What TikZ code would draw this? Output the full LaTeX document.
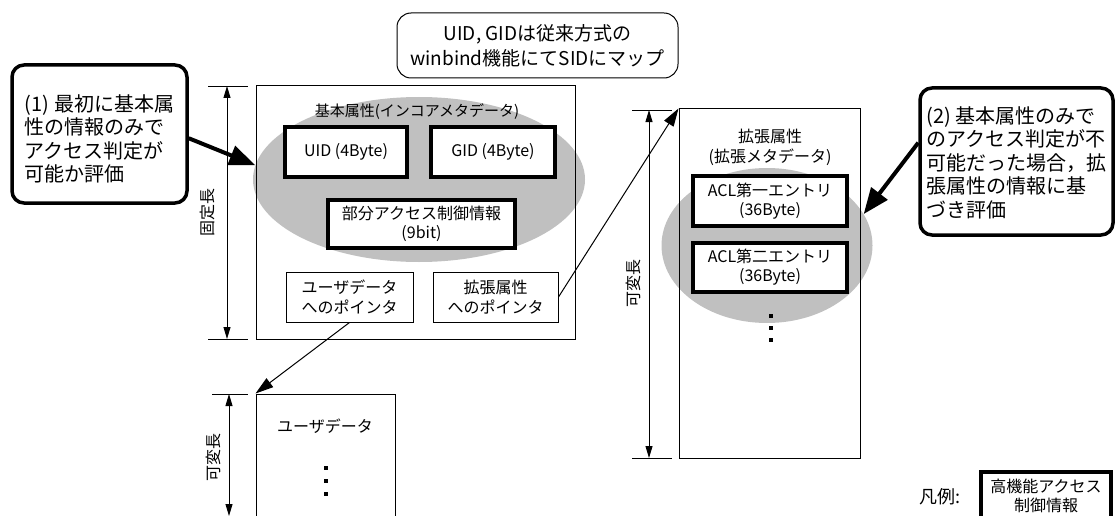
\documentclass[tikz,border=0pt]{standalone}
\usepackage{fontspec}
\setmainfont{Noto Sans CJK JP}
\usetikzlibrary{arrows.meta,shapes.geometric,calc}
\definecolor{ellgray}{RGB}{192,192,192}
\begin{document}
\begin{tikzpicture}[x=1pt,y=-1pt,
  thinbox/.style={draw, line width=1pt, inner sep=0pt, align=center, font=\fontsize{16}{20}\selectfont},
  thickbox/.style={draw, line width=3.5pt, fill=white, inner sep=0pt, align=center, font=\fontsize{16}{19}\selectfont},
  callout/.style={draw, line width=3.5pt, rounded corners=12pt, fill=white, inner sep=0pt},
  calltext/.style={align=left, inner sep=0pt, font=\fontsize{20}{23.5}\selectfont},
  grayell/.style={ellipse, fill=ellgray, inner sep=0pt},
  thinarrow/.style={-{Triangle[length=18pt,width=11pt]}, line width=1pt},
  thickarrow/.style={-{Triangle[length=26pt,width=20pt]}, line width=4pt},
  dimarrow/.style={{Triangle[length=12pt,width=7pt]}-{Triangle[length=12pt,width=7pt]}, line width=0.9pt},
  dimtick/.style={line width=0.9pt},
  dimlabel/.style={rotate=90, font=\fontsize{16}{20}\selectfont},
  dotsq/.style={fill=black, minimum size=3.5pt, inner sep=0pt},
  lbl/.style={align=center, inner sep=0pt, font=\fontsize{16}{20}\selectfont}]
\useasboundingbox (0,0) rectangle (1115,516);
\clip (0,0) rectangle (1115,516);

% top callout
\node[draw, line width=1pt, rounded corners=14pt, minimum width=281pt, minimum height=65pt, inner sep=0pt, align=center, font=\fontsize{19}{25}\selectfont] (top) at (537.5,45.5) {UID, GIDは従来方式の\\winbind機能にてSIDにマップ};

% basic attribute block
\node[grayell, minimum width=332pt, minimum height=165pt] (e1) at (419,179.5) {};
\node[thinbox, minimum width=319pt, minimum height=253pt] (main) at (415.5,212.5) {};
\node[lbl, font=\fontsize{15}{18}\selectfont] (t1) at (417,112) {基本属性(インコアメタデータ)};
\node[thickbox, minimum width=122pt, minimum height=50pt] (uid) at (346,152) {UID (4Byte)};
\node[thickbox, minimum width=124pt, minimum height=50pt] (gid) at (493,152) {GID (4Byte)};
\node[thickbox, minimum width=187pt, minimum height=48pt] (part) at (421.5,224) {部分アクセス制御情報\\(9bit)};
\node[thinbox, fill=white, minimum width=127pt, minimum height=50pt] (uptr) at (349.5,297) {ユーザデータ\\へのポインタ};
\node[thinbox, fill=white, minimum width=125pt, minimum height=50pt] (eptr) at (495.5,297) {拡張属性\\へのポインタ};

% fixed length dimension
\coordinate (f1) at (227,86);
\coordinate (f2) at (227,339);
\draw[dimtick] (208,86) -- (248,86);
\draw[dimtick] (208,339) -- (248,339);
\draw[dimarrow] (f1) -- (f2);
\node[dimlabel] (fl) at (207,212) {固定長};

% extended attribute block
\node[grayell, minimum width=211pt, minimum height=155pt] (e2) at (767,245.5) {};
\node[thinbox, minimum width=181pt, minimum height=349pt] (ext) at (769.5,283.5) {};
\node[lbl] (t2) at (770,147) {拡張属性\\(拡張メタデータ)};
\node[thickbox, minimum width=154pt, minimum height=50pt] (acl1) at (770,201) {ACL第一エントリ\\(36Byte)};
\node[thickbox, minimum width=154pt, minimum height=49pt] (acl2) at (770,267.5) {ACL第二エントリ\\(36Byte)};
\node[dotsq] (d1) at (771,316) {};
\node[dotsq] (d2) at (771,328) {};
\node[dotsq] (d3) at (771,340) {};

% variable length dimension (extended)
\coordinate (v1) at (649,110);
\coordinate (v2) at (649,458);
\draw[dimtick] (632,110) -- (672,110);
\draw[dimtick] (632,458) -- (672,458);
\draw[dimarrow] (v1) -- (v2);
\node[dimlabel] (vl) at (633,283) {可変長};

% user data block
\node[thinbox, minimum width=139pt, minimum height=140pt] (ud) at (325.5,464) {};
\node[lbl] (t3) at (325,426) {ユーザデータ};
\node[dotsq] (d4) at (326,468) {};
\node[dotsq] (d5) at (326,481) {};
\node[dotsq] (d6) at (326,494) {};
\coordinate (u1) at (229,394);
\coordinate (u2) at (229,516);
\draw[dimtick] (212,394) -- (248,394);
\draw[dimarrow] (u1) -- (u2);
\node[dimlabel] (ul) at (213,457) {可変長};

% pointer arrows
\draw[thinarrow] (uptr.south) -- (ud.north west);
\draw[thinarrow] (eptr.east) -- (ext.north west);

% callouts
\node[callout, minimum width=175pt, minimum height=138pt] (c1) at (99.5,134) {};
\node[calltext] (c1t) at (99.5,139) {(1) 最初に基本属\\性の情報のみで\\アクセス判定が\\可能か評価};
\node[callout, minimum width=193pt, minimum height=147pt] (c2) at (1016.5,161.5) {};
\node[calltext] (c2t) at (1016.5,162.5) {(2) 基本属性のみで\\のアクセス判定が不\\可能だった場合，拡\\張属性の情報に基\\づき評価};
\draw[thickarrow] ($(c1.north east)!0.53!(c1.south east)$) -- (e1.175);
\draw[thickarrow] ($(c2.north west)!0.375!(c2.south west)$) -- (e2.18);

% legend
\node[lbl, font=\fontsize{18}{20}\selectfont] (lg) at (940,497) {凡例:};
\node[thickbox, minimum width=130pt, minimum height=48pt, font=\fontsize{16}{19}\selectfont] (lgbox) at (1046,496) {高機能アクセス\\制御情報};
\end{tikzpicture}
\end{document}
